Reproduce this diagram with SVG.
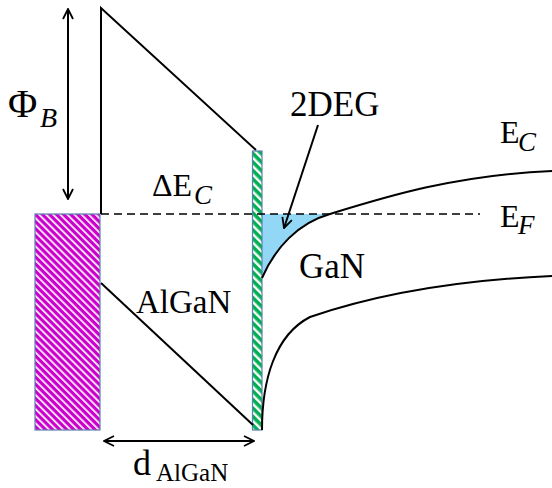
<svg xmlns="http://www.w3.org/2000/svg" width="552" height="488" viewBox="0 0 552 488">
<defs>
<pattern id="magentaHatch" patternUnits="userSpaceOnUse" width="5" height="5" patternTransform="rotate(-45)">
<rect width="5" height="5" fill="#CC00CC"/>
<rect x="0" y="0" width="1.7" height="5" fill="#ffffff"/>
</pattern>
<pattern id="greenHatch" patternUnits="userSpaceOnUse" width="6" height="6" patternTransform="rotate(-45)">
<rect width="6" height="6" fill="#00B050"/>
<rect x="0" y="0" width="2.4" height="6" fill="#ffffff"/>
</pattern>
<marker id="arr" viewBox="0 0 12 12" refX="11" refY="6" markerWidth="12" markerHeight="12" markerUnits="userSpaceOnUse" orient="auto-start-reverse">
<path d="M1,1 L11,6 L1,11" fill="none" stroke="#000" stroke-width="1.8"/>
</marker>
<style>
.ln{fill:none;stroke:#000;stroke-width:2}
.lbl{font-family:"Liberation Serif","DejaVu Serif",serif;fill:#000}
.sub{font-family:"Liberation Serif","DejaVu Serif",serif;font-style:italic;fill:#000}
</style>
</defs>
<rect width="552" height="488" fill="#fff"/>

<g id="gaN-2deg">
<path d="M262,214 L330,214 C305,221 285,236 262,278 Z" fill="#92D8F6"/>
</g>

<g id="metal">
<rect x="35" y="214" width="65" height="216" fill="url(#magentaHatch)" stroke="#5B7FB0" stroke-width="1.2"/>
</g>

<g id="interface">
<rect x="252.5" y="151" width="9.5" height="279" fill="url(#greenHatch)" stroke="#5B7FB0" stroke-width="1.2"/>
</g>

<g id="connectors">
<path class="ln" d="M101,214 L101,8 L256,150"/>
<path class="ln" d="M101,283 L253,425"/>
<line x1="101" y1="214" x2="480" y2="214" stroke="#000" stroke-width="1.5" stroke-dasharray="8,5"/>
<path class="ln" d="M262,278 C275,248 298,223 330,214 C385,197 455,175 552,171"/>
<path class="ln" d="M262,430 C262,380 275,335 310,317 C380,293 460,280 552,276"/>
<line x1="68" y1="9" x2="68" y2="199" stroke="#000" stroke-width="2" marker-start="url(#arr)" marker-end="url(#arr)"/>
<line x1="104" y1="441" x2="254" y2="441" stroke="#000" stroke-width="2" marker-start="url(#arr)" marker-end="url(#arr)"/>
<line x1="318" y1="125" x2="284" y2="228" stroke="#000" stroke-width="2" marker-end="url(#arr)"/>
</g>

<g id="labels">
<text class="lbl" x="8" y="117" font-size="40">Φ</text>
<text class="sub" x="40" y="127" font-size="28">B</text>
<text class="lbl" x="290" y="116" font-size="35">2DEG</text>
<text class="lbl" x="500" y="143" font-size="32">E</text>
<text class="sub" x="518" y="151" font-size="27">C</text>
<text class="lbl" x="500" y="227" font-size="32">E</text>
<text class="sub" x="518" y="234" font-size="27">F</text>
<text class="lbl" x="152" y="196" font-size="32">ΔE</text>
<text class="sub" x="194" y="204" font-size="27">C</text>
<text class="lbl" x="299" y="278" font-size="35">GaN</text>
<text class="lbl" x="136" y="313" font-size="33">AlGaN</text>
<text class="lbl" x="133" y="475" font-size="36">d</text>
<text class="lbl" x="156" y="481" font-size="25">AlGaN</text>
</g>
</svg>
